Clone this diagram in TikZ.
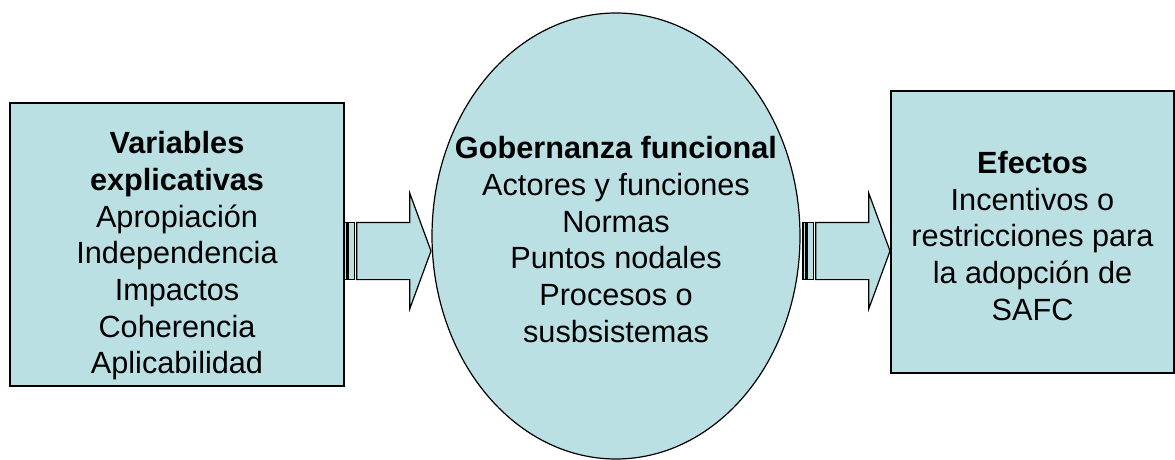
\documentclass[tikz,border=0pt]{standalone}
\usepackage{fontspec}
\setmainfont{Liberation Sans}
\usetikzlibrary{shapes.geometric}
\definecolor{panelblue}{HTML}{BBE0E3}
\tikzset{
  panel/.style={draw=black, fill=panelblue, line width=0.9pt, inner sep=0pt},
  paneltxt/.style={align=center, inner sep=0pt, font=\fontsize{23}{27.5}\selectfont},
  pics/stripearrow/.style={code={
    \draw[panel] (0,-28.6) rectangle (3,28.6);
    \draw[panel] (4.7,-28.6) rectangle (10.7,28.6);
    \draw[panel] (12.7,-28.6) -- (65.7,-28.6) -- (65.7,-58) -- (87,0) -- (65.7,58) -- (65.7,28.6) -- (12.7,28.6) -- cycle;
  }}
}
\begin{document}
\begin{tikzpicture}[x=0.75pt,y=0.75pt,yscale=-1,xscale=1]
\useasboundingbox (0,0) rectangle (1175,460);
%框与椭圆
\node[panel, minimum width=250.5pt, minimum height=212.25pt] (var) at (177,244.5) {};
\node[panel, ellipse, minimum width=276pt, minimum height=334.5pt] (gov) at (616,236) {};
\node[panel, minimum width=212.25pt, minimum height=211.5pt] (eff) at (1032.5,232) {};
%箭头
\coordinate (arr1) at (344,251);
\coordinate (arr2) at (803,251);
\pic at (arr1) {stripearrow};
\pic at (arr2) {stripearrow};
%Text
\node[paneltxt] (vartxt) at (177,256) {\textbf{Variables}\\\textbf{explicativas}\\Apropiación\\Independencia\\Impactos\\Coherencia\\Aplicabilidad};
\node[paneltxt] (govtxt) at (616,239.5) {\textbf{Gobernanza funcional}\\Actores y funciones\\Normas\\Puntos nodales\\Procesos o\\susbsistemas};
\node[paneltxt] (efftxt) at (1032.5,236) {\textbf{Efectos}\\Incentivos o\\restricciones para\\la adopción de\\SAFC};
\end{tikzpicture}
\end{document}
